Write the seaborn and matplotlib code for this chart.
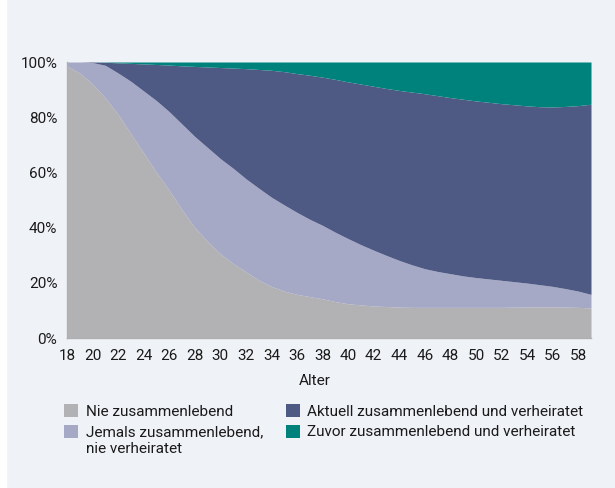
import matplotlib
matplotlib.use("Agg")
import matplotlib.pyplot as plt
from matplotlib.patches import Rectangle
from matplotlib.ticker import MultipleLocator, PercentFormatter
import seaborn as sns

# ages 18..59, shares in percent
ages = list(range(18, 60))

nie_zusammen = [98.5, 96, 92, 87, 81, 74, 67, 60, 53.5, 46.5,
                40, 35, 30.5, 27, 24, 21, 18.7, 17, 15.8, 15,
                14.2, 13.2, 12.4, 12, 11.6, 11.4, 11.2, 11.1, 11.1, 11.1,
                11.1, 11.1, 11.1, 11.1, 11.1, 11.2, 11.2, 11.3, 11.3, 11.2,
                11.1, 10.9]
jemals_zusammen = [1.5, 4, 7.8, 11.8, 15, 19, 22.5, 26, 28.5, 31,
                   33, 34, 34.5, 34.5, 33.7, 33.3, 32.3, 31.2, 29.7, 28,
                   26.6, 25.1, 23.6, 21.8, 20.2, 18.5, 16.9, 15.4, 14, 13,
                   12.2, 11.4, 10.8, 10.3, 9.8, 9.2, 8.7, 8, 7.4, 6.7,
                   5.9, 4.9]
aktuell_verh = [0, 0, 0.2, 1.1, 3.7, 6.5, 9.8, 13.1, 16.9, 21.1,
                25.4, 29.2, 33, 36.3, 39.9, 43, 46, 48.3, 50.3, 52.2,
                53.7, 55.4, 56.8, 58.2, 59.4, 60.5, 61.6, 62.6, 63.4, 63.7,
                63.8, 64, 64, 64, 64, 64.1, 64.2, 64.5, 65, 66,
                67.2, 68.9]
zuvor_verh = [0, 0, 0, 0.1, 0.3, 0.5, 0.7, 0.9, 1.1, 1.4,
              1.6, 1.8, 2, 2.2, 2.4, 2.7, 3, 3.5, 4.2, 4.8,
              5.5, 6.3, 7.2, 8, 8.8, 9.6, 10.3, 10.9, 11.5, 12.2,
              12.9, 13.5, 14.1, 14.6, 15.1, 15.5, 15.9, 16.2, 16.3, 16.1,
              15.8, 15.3]

labels = ["Nie zusammenlebend",
          "Jemals zusammenlebend,",
          "Aktuell zusammenlebend und verheiratet",
          "Zuvor zusammenlebend und verheiratet"]
label_extra = "nie verheiratet"   # second line of the 2nd entry
colors = ["#b2b2b4", "#a6a9c6", "#4f5a84", "#00827c"]

BG = "#eff2f7"
TXT = "#1a1a1a"
sns.set_style("white")
plt.rcParams["font.family"] = ["Roboto", "DejaVu Sans"]

fig = plt.figure(figsize=(6.15, 4.88), dpi=100, facecolor=BG)
fig.patches.append(Rectangle((0, 0), 6 / 615, 1, transform=fig.transFigure,
                             color="white", zorder=0))
ax = fig.add_axes([67 / 615, 1 - 338 / 488, 524 / 615, 276 / 488])
ax.set_facecolor(BG)

ax.stackplot(ages, nie_zusammen, jemals_zusammen, aktuell_verh, zuvor_verh,
             colors=colors, labels=labels, linewidth=0)

ax.set_xlim(18, 59)
ax.set_ylim(0, 100)
ax.xaxis.set_major_locator(MultipleLocator(2))
ax.xaxis.set_minor_locator(MultipleLocator(1))
ax.yaxis.set_major_locator(MultipleLocator(20))
ax.yaxis.set_major_formatter(PercentFormatter(decimals=0))

for side in ["top", "right"]:
    ax.spines[side].set_visible(False)
for side in ["left", "bottom"]:
    ax.spines[side].set_color("#b0b0b0")
    ax.spines[side].set_linewidth(1)
ax.tick_params(axis="both", which="both", length=4, width=1, color="#b0b0b0",
               labelsize=11, labelcolor=TXT, pad=3)
ax.tick_params(axis="x", which="major", pad=4)

fig.text(315 / 615, 1 - 381 / 488, "Alter", ha="center", va="center",
         fontsize=11, color=TXT)

leg = fig.legend(loc="upper left", bbox_to_anchor=(58 / 615, 1 - 398 / 488),
                 ncol=2, frameon=False, fontsize=11, handlelength=0.9,
                 handleheight=0.9, handletextpad=0.5, columnspacing=1.5,
                 labelspacing=0.4, borderaxespad=0, labelcolor=TXT)

# put the second line of the "Jemals" label under its first line
fig.canvas.draw()
bb = leg.get_texts()[1].get_window_extent().transformed(fig.transFigure.inverted())
fig.text(bb.x0, bb.y0 - 3 / 488, label_extra, ha="left", va="top",
         fontsize=11, color=TXT)

fig.savefig("out.png", dpi=100, facecolor=BG)
